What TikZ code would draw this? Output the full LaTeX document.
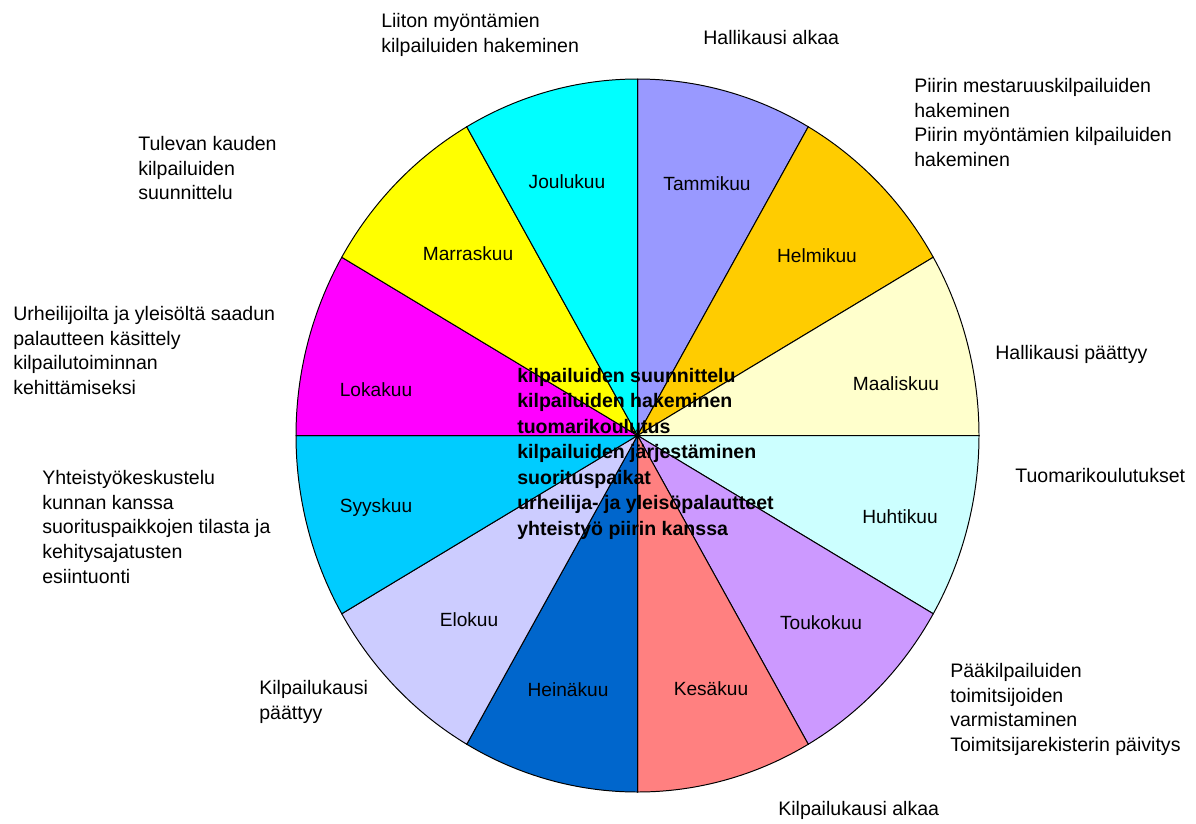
\documentclass[tikz,border=0pt]{standalone}
\usepackage{fontspec}
\setmainfont{Liberation Sans}
\usetikzlibrary{positioning}

\definecolor{tammi}{HTML}{9999FF}
\definecolor{helmi}{HTML}{FFCC00}
\definecolor{maalis}{HTML}{FFFFCC}
\definecolor{huhti}{HTML}{CCFFFF}
\definecolor{touko}{HTML}{CC99FF}
\definecolor{kesa}{HTML}{FF8080}
\definecolor{heina}{HTML}{0066CC}
\definecolor{elo}{HTML}{CCCCFF}
\definecolor{syys}{HTML}{00CCFF}
\definecolor{loka}{HTML}{FF00FF}
\definecolor{marras}{HTML}{FFFF00}
\definecolor{joulu}{HTML}{00FFFF}

\tikzset{
  kuu/.style={font=\fontsize{13.6}{16}\selectfont, anchor=base, inner sep=0pt},
  teksti/.style={font=\fontsize{13.9}{17.6}\selectfont, align=left, anchor=north west, inner sep=0pt},
  keski/.style={font=\fontsize{13.9}{18.1}\selectfont\bfseries, align=left, anchor=north west, inner sep=0pt}
}

\begin{document}
\begin{tikzpicture}[x=0.025cm, y=0.025cm]
\useasboundingbox (0,0) rectangle (1196,-823);
\coordinate (c) at (637.5,-435.5);
% sektorit
\foreach \a/\vari in {60/tammi, 30/helmi, 0/maalis, -30/huhti, -60/touko, -90/kesa,
                      -120/heina, -150/elo, 180/syys, 150/loka, 120/marras, 90/joulu}
  \filldraw[fill=\vari, draw=black, line width=0.7pt] (c) -- ++(\a:341.5 and 356.5)
    arc[start angle=\a, delta angle=30, x radius=341.5, y radius=356.5] -- cycle;

% kuukaudet
\node[kuu] (tammikuu) at (707,-190) {Tammikuu};
\node[kuu] (joulukuu) at (567,-188) {Joulukuu};
\node[kuu] (marraskuu) at (468,-260) {Marraskuu};
\node[kuu] (helmikuu) at (817,-262) {Helmikuu};
\node[kuu] (lokakuu) at (376,-396) {Lokakuu};
\node[kuu] (maaliskuu) at (896,-390) {Maaliskuu};
\node[kuu] (syyskuu) at (376,-512) {Syyskuu};
\node[kuu] (huhtikuu) at (900,-523) {Huhtikuu};
\node[kuu] (elokuu) at (469,-626) {Elokuu};
\node[kuu] (toukokuu) at (821,-629) {Toukokuu};
\node[kuu] (heinakuu) at (568,-696) {Heinäkuu};
\node[kuu] (kesakuu) at (711,-695) {Kesäkuu};

% keskiteksti
\node[keski] (teemat) at (517,-368) {kilpailuiden suunnittelu\\kilpailuiden hakeminen\\tuomarikoulutus\\kilpailuiden järjestäminen\\suorituspaikat\\urheilija- ja yleisöpalautteet\\yhteistyö piirin kanssa};

% tapahtumat
\node[teksti] (liitto) at (381,-13) {Liiton myöntämien\\kilpailuiden hakeminen};
\node[teksti] (hallialkaa) at (703,-30) {Hallikausi alkaa};
\node[teksti] (piiri) at (914,-78) {Piirin mestaruuskilpailuiden\\hakeminen\\Piirin myöntämien kilpailuiden\\hakeminen};
\node[teksti] (tuleva) at (138,-136) {Tulevan kauden\\kilpailuiden\\suunnittelu};
\node[teksti] (palaute) at (13,-306) {Urheilijoilta ja yleisöltä saadun\\palautteen käsittely\\kilpailutoiminnan\\kehittämiseksi};
\node[teksti] (hallipaattyy) at (995,-345) {Hallikausi päättyy};
\node[teksti] (tuomari) at (1015,-468) {Tuomarikoulutukset};
\node[teksti] (kunta) at (42,-470) {Yhteistyökeskustelu\\kunnan kanssa\\suorituspaikkojen tilasta ja\\kehitysajatusten\\esiintuonti};
\node[teksti] (kausipaattyy) at (259,-680) {Kilpailukausi\\päättyy};
\node[teksti] (toimitsijat) at (950,-663) {Pääkilpailuiden\\toimitsijoiden\\varmistaminen\\Toimitsijarekisterin päivitys};
\node[teksti] (kausialkaa) at (778,-801) {Kilpailukausi alkaa};
\end{tikzpicture}
\end{document}
